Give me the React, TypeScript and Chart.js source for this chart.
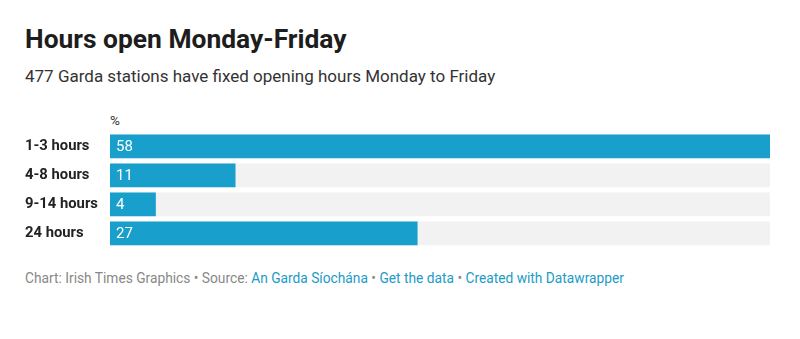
import React, { useEffect, useRef } from "react";
import { Chart, registerables } from "chart.js";

Chart.register(...registerables);

const categories = ["1-3 hours", "4-8 hours", "9-14 hours", "24 hours"];
const values = [58, 11, 4, 27];
const maxValue = 58;
const trackValues = categories.map(() => maxValue);

const BAR_COLOR = "#189fcb";
const TRACK_COLOR = "#f2f2f2";
const FONT = "Roboto";

const valueLabelPlugin = {
  id: "valueLabels",
  afterDatasetsDraw(chart: any) {
    const meta = chart.getDatasetMeta(0);
    const ctx = chart.ctx;
    ctx.save();
    ctx.font = `400 15px ${FONT}`;
    ctx.fillStyle = "#ffffff";
    ctx.textAlign = "left";
    ctx.textBaseline = "middle";
    meta.data.forEach((bar: any, i: number) => {
      const left = Math.min(bar.base, bar.x);
      ctx.fillText(String(values[i]), left + 6, bar.y + 1);
    });
    ctx.restore();
  },
};

function BarChart() {
  const ref = useRef<HTMLCanvasElement | null>(null);
  useEffect(() => {
    if (!ref.current) return;
    const chart = new Chart(ref.current, {
      type: "bar",
      data: {
        labels: categories,
        datasets: [
          {
            data: values,
            backgroundColor: BAR_COLOR,
            barThickness: 23,
            grouped: false,
            order: 0,
          },
          {
            data: trackValues,
            backgroundColor: TRACK_COLOR,
            barThickness: 23,
            grouped: false,
            order: 1,
          },
        ],
      },
      options: {
        indexAxis: "y",
        animation: false,
        responsive: false,
        maintainAspectRatio: false,
        events: [],
        layout: { padding: { left: 25, right: 30, top: 31.8, bottom: 12.2 } },
        plugins: {
          legend: { display: false },
          tooltip: { enabled: false },
          title: { display: false },
        },
        scales: {
          x: {
            display: false,
            min: 0,
            max: maxValue,
          },
          y: {
            grid: { display: false },
            border: { display: false },
            afterFit(scale: any) {
              scale.width = 85;
            },
            ticks: {
              crossAlign: "far",
              padding: 0,
              color: "#222222",
              font: { family: FONT, size: 14.8, weight: "bold" },
            },
          },
        },
      },
      plugins: [valueLabelPlugin],
    } as any);
    return () => chart.destroy();
  }, []);
  return (
    <canvas
      ref={ref}
      width={800}
      height={160}
      style={{ position: "absolute", left: 0, top: 100, width: 800, height: 160 }}
    />
  );
}

export default function App() {
  return (
    <div
      style={{
        position: "absolute",
        left: 0,
        top: 0,
        width: 800,
        height: 339,
        background: "#ffffff",
        fontFamily: FONT,
        overflow: "hidden",
      }}
    >
      <div
        style={{
          position: "absolute",
          left: 25,
          top: 23,
          fontSize: 26.4,
          fontWeight: 700,
          color: "#1d1d1d",
          lineHeight: "32px",
          whiteSpace: "nowrap",
        }}
      >
        Hours open Monday-Friday
      </div>
      <div
        style={{
          position: "absolute",
          left: 25,
          top: 64,
          fontSize: 17,
          fontWeight: 400,
          color: "#333333",
          lineHeight: "24px",
          whiteSpace: "nowrap",
        }}
      >
        477 Garda stations have fixed opening hours Monday to Friday
      </div>
      <div
        style={{
          position: "absolute",
          left: 110,
          top: 112,
          fontSize: 13.5,
          color: "#333333",
          lineHeight: "16px",
        }}
      >
        %
      </div>
      <BarChart />
      <div
        style={{
          position: "absolute",
          left: 25,
          top: 269,
          fontSize: 13.75,
          color: "#888888",
          lineHeight: "18px",
          whiteSpace: "nowrap",
        }}
      >
        Chart: Irish Times Graphics • Source:{" "}
        <span style={{ color: "#1d9bc6" }}>An Garda Síochána</span> •{" "}
        <span style={{ color: "#1d9bc6" }}>Get the data</span> •{" "}
        <span style={{ color: "#1d9bc6" }}>Created with Datawrapper</span>
      </div>
    </div>
  );
}
